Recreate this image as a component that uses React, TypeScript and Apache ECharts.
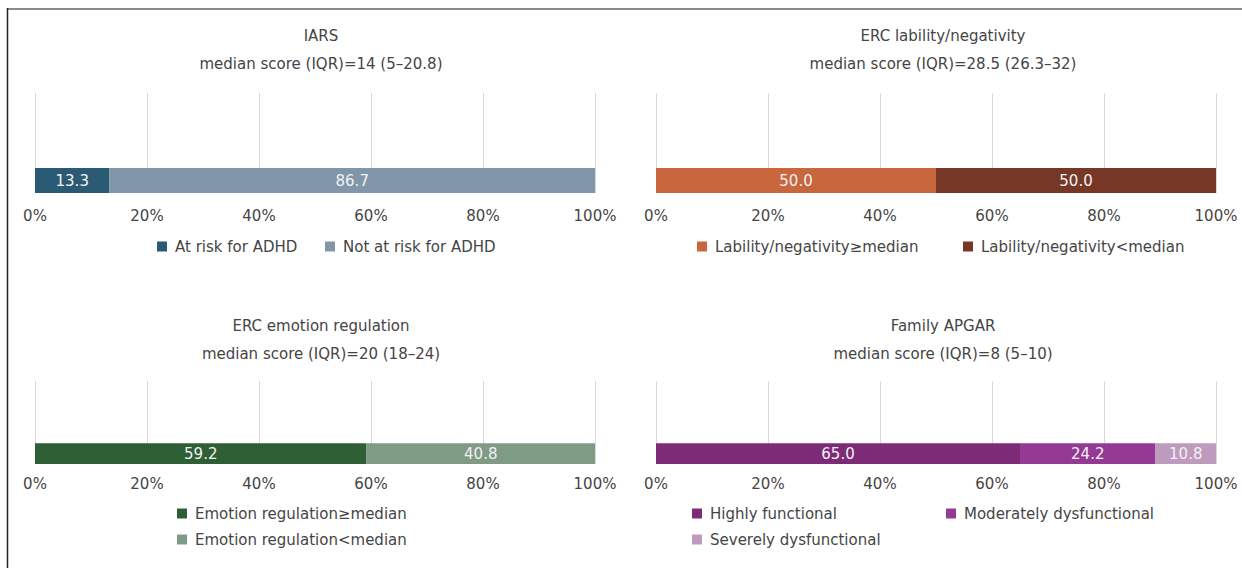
import React, { useEffect, useRef } from "react";
import * as echarts from "echarts";

// ---- Data ----
const panelTitles = ["IARS", "ERC lability/negativity", "ERC emotion regulation", "Family APGAR"];
const panelSubtitles = [
  "median score (IQR)=14 (5\u201320.8)",
  "median score (IQR)=28.5 (26.3\u201332)",
  "median score (IQR)=20 (18\u201324)",
  "median score (IQR)=8 (5\u201310)",
];
const barCategories = ["Total", " ", "  ", "   "]; // bar sits in the bottom band
const xTicks = [0, 20, 40, 60, 80, 100];

const iarsNames = ["At risk for ADHD", "Not at risk for ADHD"];
const iarsValues = [13.3, 86.7];
const iarsColors = ["#2b5a75", "#8196a8"];

const labilityNames = ["Lability/negativity\u2265median", "Lability/negativity<median"];
const labilityValues = [50.0, 50.0];
const labilityColors = ["#c8663d", "#773727"];

const emotionNames = ["Emotion regulation\u2265median", "Emotion regulation<median"];
const emotionValues = [59.2, 40.8];
const emotionColors = ["#2e5e34", "#7f9a85"];

const apgarNames = ["Highly functional", "Moderately dysfunctional", "Severely dysfunctional"];
const apgarValues = [65.0, 24.2, 10.8];
const apgarColors = ["#7e2b77", "#943a94", "#bf9abf"];

// ---- Layout ----
const FONT = "DejaVu Sans";
const TEXT = "#454545";

const panels = [
  { names: iarsNames, values: iarsValues, colors: iarsColors,
    grid: { left: 35, top: 93, width: 560, height: 100 }, titleX: 321, titleY: 36, subY: 64, labelMargin: 15,
    legend: [[157, 248], [325, 248]] },
  { names: labilityNames, values: labilityValues, colors: labilityColors,
    grid: { left: 656, top: 93, width: 560, height: 100 }, titleX: 943, titleY: 36, subY: 64, labelMargin: 15,
    legend: [[697, 248], [963, 248]] },
  { names: emotionNames, values: emotionValues, colors: emotionColors,
    grid: { left: 35, top: 381, width: 560, height: 83 }, titleX: 321, titleY: 326, subY: 354, labelMargin: 12,
    legend: [[177, 515], [177, 541]] },
  { names: apgarNames, values: apgarValues, colors: apgarColors,
    grid: { left: 656, top: 381, width: 560, height: 83 }, titleX: 943, titleY: 326, subY: 354, labelMargin: 12,
    legend: [[692, 515], [946, 515], [692, 541]] },
];

export default function App() {
  const ref = useRef<HTMLDivElement>(null);

  useEffect(() => {
    if (!ref.current) return;
    const chart = echarts.init(ref.current, null, { renderer: "svg" });

    const grids: any[] = [];
    const xAxes: any[] = [];
    const yAxes: any[] = [];
    const series: any[] = [];
    const legends: any[] = [];
    const graphics: any[] = [
      { type: "line", shape: { x1: 7, y1: 9, x2: 1242, y2: 9 }, style: { stroke: "#8a8a8a", lineWidth: 2 } },
      { type: "line", shape: { x1: 7.5, y1: 8, x2: 7.5, y2: 568 }, style: { stroke: "#222222", lineWidth: 1.5 } },
    ];

    panels.forEach((p, i) => {
      grids.push({ ...p.grid, containLabel: false });
      xAxes.push({
        gridIndex: i, type: "value", min: xTicks[0], max: xTicks[xTicks.length - 1], interval: xTicks[1] - xTicks[0],
        axisLine: { show: false }, axisTick: { show: false },
        splitLine: { show: true, lineStyle: { color: "#d9d9d9", width: 1 } },
        axisLabel: { formatter: "{value}%", color: TEXT, fontSize: 15, fontFamily: FONT, margin: p.labelMargin },
      });
      yAxes.push({
        gridIndex: i, type: "category", data: barCategories,
        axisLine: { show: false }, axisTick: { show: false }, axisLabel: { show: false },
        splitLine: { show: false },
      });
      p.names.forEach((name, j) => {
        series.push({
          type: "bar", name, stack: "s" + i, xAxisIndex: i, yAxisIndex: i,
          barWidth: "100%", data: [p.values[j]],
          itemStyle: { color: p.colors[j] },
          label: {
            show: true, position: "inside", color: "#f2f2f2", fontSize: 15, fontFamily: FONT,
            formatter: (d: any) => Number(d.value).toFixed(1),
          },
        });
        const [lx, ly] = p.legend[j];
        legends.push({
          data: [name], left: lx - 5, top: ly - 5 - 9, padding: 5,
          itemWidth: 10, itemHeight: 10, icon: "rect", selectedMode: false,
          textStyle: { color: TEXT, fontSize: 15, fontFamily: FONT, padding: [0, 0, 0, 3] },
        });
      });
      graphics.push({
        type: "text", x: p.titleX, y: p.titleY,
        style: { text: panelTitles[i], fill: TEXT, font: `15px "${FONT}"`, textAlign: "center", textVerticalAlign: "middle" },
      });
      graphics.push({
        type: "text", x: p.titleX, y: p.subY,
        style: { text: panelSubtitles[i], fill: TEXT, font: `15px "${FONT}"`, textAlign: "center", textVerticalAlign: "middle" },
      });
    });

    chart.setOption({
      animation: false,
      backgroundColor: "#ffffff",
      grid: grids,
      xAxis: xAxes,
      yAxis: yAxes,
      series,
      legend: legends,
      graphic: graphics,
    });

    return () => chart.dispose();
  }, []);

  return (
    <div
      ref={ref}
      style={{ position: "fixed", left: 0, top: 0, width: 1242, height: 568, background: "#fff" }}
    />
  );
}
